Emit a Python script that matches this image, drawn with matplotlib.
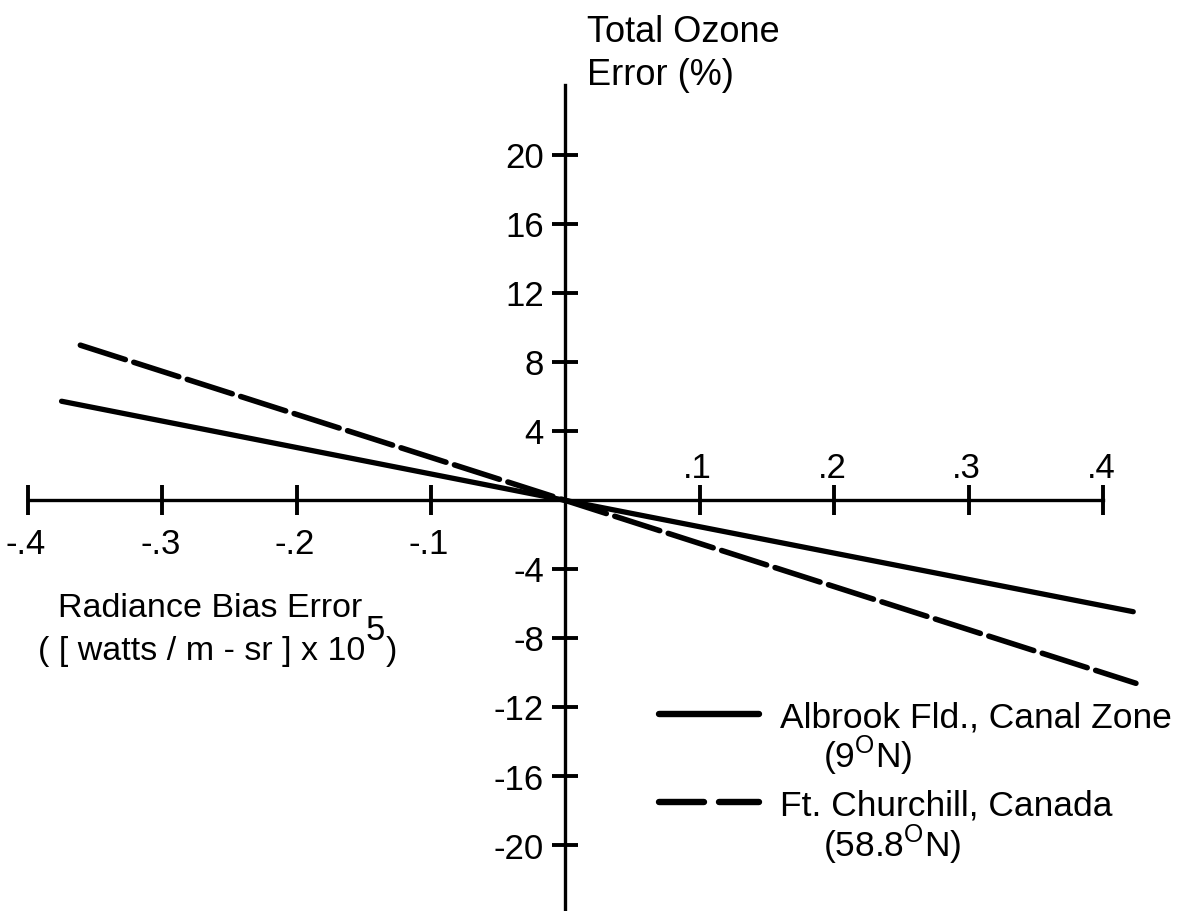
import matplotlib
matplotlib.use('Agg')
import matplotlib.pyplot as plt
from matplotlib.lines import Line2D

FONT = 'Liberation Sans'
plt.rcParams['font.family'] = [FONT, 'DejaVu Sans']
plt.rcParams['mathtext.fontset'] = 'custom'
plt.rcParams['mathtext.rm'] = FONT

# radiance bias error ([watts/m-sr] x 1e5) vs. total ozone error (%)
albrook_x = [-0.375, 0.0, 0.4225]
albrook_y = [5.75, 0.0, -6.45]
churchill_x = [-0.361, 0.0, 0.4245]
churchill_y = [9.0, 0.0, -10.6]

x_ticks = [-0.4, -0.3, -0.2, -0.1, 0.1, 0.2, 0.3, 0.4]
x_ticklabels = ['-.4', '-.3', '-.2', '-.1', '.1', '.2', '.3', '.4']
y_ticks = [-20, -16, -12, -8, -4, 4, 8, 12, 16, 20]
y_ticklabels = ['-20', '-16', '-12', '-8', '-4', '4', '8', '12', '16', '20']

W, H = 1178, 911


def px(x, y):
    # pixel position (from top left) -> figure fraction
    return x / W, 1 - y / H


fig = plt.figure(figsize=(W / 100, H / 100), dpi=100)
ax = fig.add_axes([0, 0, 1, 1])
ax.set_xlim(-0.4208, 0.4558)
ax.set_ylim(-23.80, 29.01)

# axes cross at the origin
for side in ('top', 'right'):
    ax.spines[side].set_visible(False)
ax.spines['left'].set_position(('data', 0))
ax.spines['bottom'].set_position(('data', 0))
ax.spines['bottom'].set_bounds(-0.4, 0.4)
ax.spines['left'].set_bounds(-25, 24.1)
for side in ('left', 'bottom'):
    ax.spines[side].set_linewidth(2.4)

ax.set_xticks(x_ticks)
ax.set_xticklabels([])
ax.set_yticks(y_ticks)
ax.set_yticklabels([])
ax.tick_params(axis='x', direction='inout', length=21.6, width=2.8)
ax.tick_params(axis='y', direction='inout', length=19.4, width=2.8)

# negative x labels below the axis, positive ones above
for t, lab in zip(x_ticks, x_ticklabels):
    dy = -38.5 if t < 0 else 16.2
    ax.annotate(lab, xy=(t, 0), xytext=(-1.5, dy), textcoords='offset points',
                ha='center', va='baseline', fontsize=25)
for t, lab in zip(y_ticks, y_ticklabels):
    ax.annotate(lab, xy=(0, t), xytext=(-15.5, -9.4), textcoords='offset points',
                ha='right', va='baseline', fontsize=25)

ax.plot(albrook_x, albrook_y, color='black', lw=3.8,
        solid_capstyle='round', solid_joinstyle='round')
ax.plot(churchill_x, churchill_y, color='black', lw=4.0,
        dashes=(8.5, 1.6), dash_capstyle='round')

# axis titles
fig.text(*px(587, 42), 'Total Ozone', fontsize=26, va='baseline')
fig.text(*px(587, 85), 'Error (%)', fontsize=26, va='baseline')
fig.text(*px(362, 617), 'Radiance Bias Error', fontsize=24.5,
         ha='right', va='baseline')
fig.text(*px(365, 660), '( [ watts / m - sr ] x 10', fontsize=24.5,
         ha='right', va='baseline')
fig.text(*px(366, 640), '5', fontsize=25, va='baseline')
fig.text(*px(386, 660), ')', fontsize=24.5, va='baseline')

# legend
fig.add_artist(Line2D([659 / W, 759 / W], [1 - 714 / H] * 2, color='black',
                      lw=4.6, solid_capstyle='round'))
for x0, x1 in [(659, 704), (719, 759)]:
    fig.add_artist(Line2D([x0 / W, x1 / W], [1 - 802 / H] * 2, color='black',
                          lw=4.6, solid_capstyle='round'))
fig.text(*px(780, 727), 'Albrook Fld., Canal Zone', fontsize=25.5, va='baseline')
fig.text(*px(823, 768), r'(9$^{\mathrm{O}}$N)', fontsize=25.5, va='baseline')
fig.text(*px(780, 815), 'Ft. Churchill, Canada', fontsize=25.5, va='baseline')
fig.text(*px(823, 857), r'(58.8$^{\mathrm{O}}$N)', fontsize=25.5, va='baseline')

fig.savefig('out.png', dpi=100)
